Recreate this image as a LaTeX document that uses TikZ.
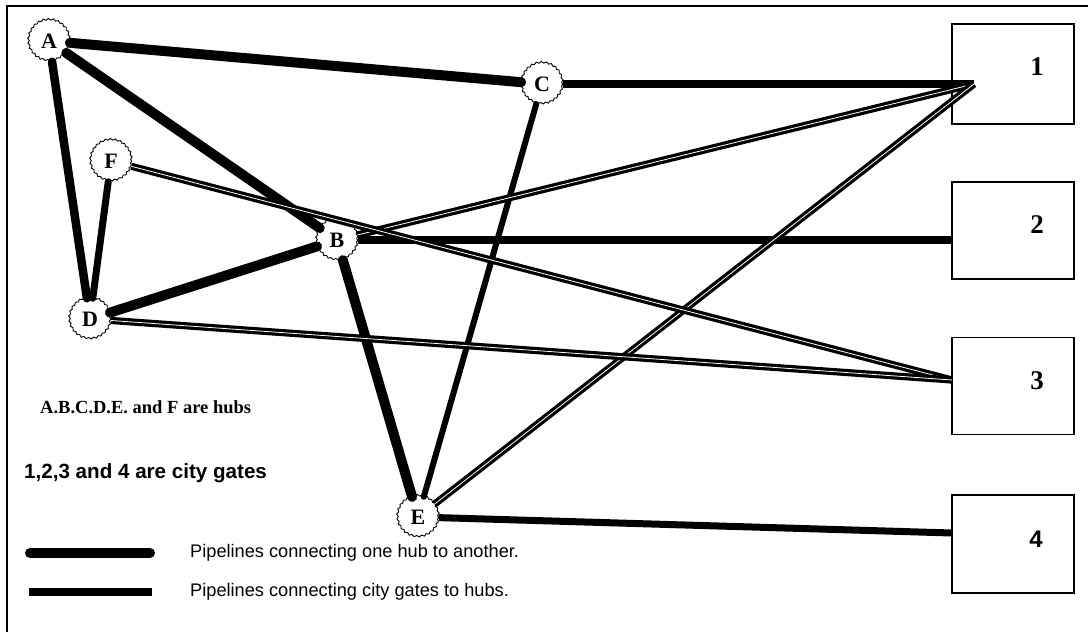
\documentclass[tikz,border=0pt]{standalone}
\usepackage{fontspec}
\setmainfont{Liberation Serif}
\setsansfont{Liberation Sans}
\usetikzlibrary{decorations.pathmorphing}
\begin{document}
\begin{tikzpicture}[x=1pt,y=-1pt,
  hub/.style={circle, draw, fill=white, line width=0.9pt, minimum size=41pt, inner sep=0pt,
    font=\fontsize{22}{22}\selectfont\bfseries,
    decorate, decoration={snake, segment length=5pt, amplitude=0.8pt}},
  gate/.style={draw, line width=1.5pt, minimum width=122pt, inner sep=0pt},
  gatelabel/.style={font=\fontsize{27}{27}\selectfont\bfseries},
  hubpipe/.style={line width=#1, line cap=round},
  gatepipe/.style={line width=#1},
  dpipe/.style={double, double distance=0.8pt, line width=3.2pt},
  note/.style={anchor=west, inner sep=0pt},
]
\useasboundingbox (0,0) rectangle (1088,632);
% outer frame
\coordinate (fa) at (7,645);
\coordinate (fb) at (7,6);
\coordinate (fc) at (1100,6);
\draw[line width=2pt] (fa) -- (fb) -- (fc);

% city gates
\node[gate, minimum height=100pt] (g1box) at (1013,74) {};
\node[gate, minimum height=97pt] (g2box) at (1013,230.5) {};
\node[gate, minimum height=97pt] (g3box) at (1013,386) {};
\node[gate, minimum height=98pt] (g4box) at (1013,544) {};
\node[gatelabel] (l1) at (1037,67) {1};
\node[gatelabel] (l2) at (1037,225) {2};
\node[gatelabel] (l3) at (1037,381) {3};
\node[gatelabel, font=\fontsize{24}{24}\selectfont\sffamily\bfseries] (l4) at (1036,539) {4};

\coordinate (g1) at (974,84);
\coordinate (g2) at (952,240);
\coordinate (g3) at (952,380);
\coordinate (g4) at (952,533);

% hubs
\node[hub] (A) at (49,41) {A};
\node[hub] (F) at (111,161) {F};
\node[hub] (D) at (90,319) {D};
\node[hub] (B) at (337,240) {B};
\node[hub] (C) at (542,84) {C};
\node[hub] (E) at (418,517) {E};

% hub to hub
\draw[hubpipe=10pt] (A) -- (C);
\draw[hubpipe=10pt] (A) -- (B);
\draw[hubpipe=8.5pt] (A) -- (D);
\draw[hubpipe=7pt] (F) -- (D);
\draw[hubpipe=10pt] (D) -- (B);
\draw[hubpipe=10pt] (B) -- (E);
\draw[hubpipe=6pt] (C) -- (E);

% hubs to city gates
\draw[gatepipe=8pt] (C) -- (g1);
\draw[gatepipe=8.5pt] (B) -- (g2);
\draw[gatepipe=7pt] (E) -- (g4);
\draw[dpipe] (B) -- (g1);
\draw[dpipe] (E) -- (g1);
\draw[dpipe] (F) -- (g3);
\draw[dpipe] (D) -- (g3);

% notes
\node[note, font=\fontsize{18.5}{18.5}\selectfont\bfseries] (n1) at (40,407) {A.B.C.D.E. and F are hubs};
\node[note, font=\fontsize{20.6}{20.6}\selectfont\sffamily\bfseries] (n2) at (24,473) {1,2,3 and 4 are city gates};

% legend
\coordinate (la1) at (30,553);
\coordinate (la2) at (150,553);
\draw[hubpipe=10pt] (la1) -- (la2);
\coordinate (lb1) at (29,592);
\coordinate (lb2) at (152,592);
\draw[gatepipe=8pt] (lb1) -- (lb2);
\node[note, font=\fontsize{18.2}{18.2}\selectfont\sffamily] (t1) at (190,553) {Pipelines connecting one hub to another.};
\node[note, font=\fontsize{18.2}{18.2}\selectfont\sffamily] (t2) at (190,592) {Pipelines connecting city gates to hubs.};
\end{tikzpicture}
\end{document}
